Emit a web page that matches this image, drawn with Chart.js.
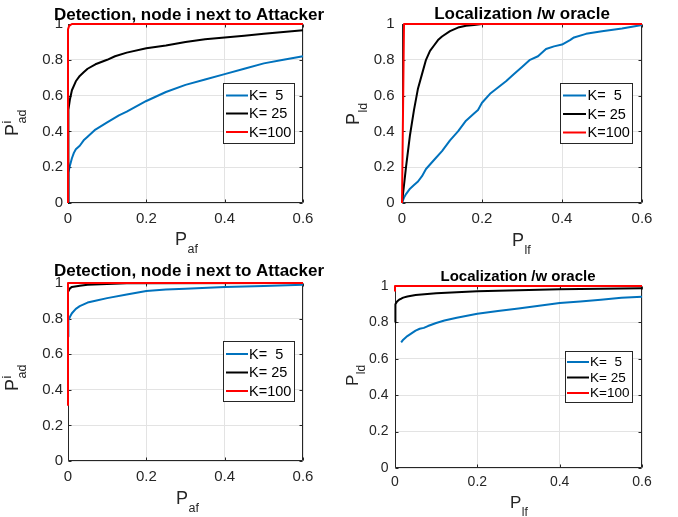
<!DOCTYPE html>
<html>
<head>
<meta charset="utf-8">
<script src="https://cdn.jsdelivr.net/npm/chart.js@4/dist/chart.umd.min.js"></script>
<style>
html,body{margin:0;padding:0;background:#fff;width:678px;height:517px;overflow:hidden}
canvas{position:absolute;left:0;top:0}
</style>
</head>
<body>
<canvas id="c1" width="678" height="517"></canvas>
<canvas id="c2" width="678" height="517"></canvas>
<canvas id="c3" width="678" height="517"></canvas>
<canvas id="c4" width="678" height="517"></canvas>
<script>
// ---------- data ----------
const legendLabels = ['K=  5', 'K= 25', 'K=100'];
const xTickVals = [0, 0.2, 0.4, 0.6];
const yTickVals = [0, 0.2, 0.4, 0.6, 0.8, 1];

// Panel 1: Detection, node i next to Attacker (top)
const det1K5x  = [0, 0, 0.002, 0.005, 0.01, 0.015, 0.02, 0.03, 0.04, 0.05, 0.07, 0.1, 0.13, 0.15, 0.2, 0.25, 0.3, 0.35, 0.4, 0.45, 0.5, 0.55, 0.6];
const det1K5y  = [0, 0.12, 0.17, 0.21, 0.25, 0.28, 0.30, 0.32, 0.35, 0.37, 0.41, 0.45, 0.49, 0.51, 0.57, 0.62, 0.66, 0.69, 0.72, 0.75, 0.78, 0.80, 0.82];
const det1K25x = [0, 0, 0.002, 0.005, 0.01, 0.02, 0.03, 0.04, 0.05, 0.07, 0.1, 0.12, 0.15, 0.2, 0.25, 0.3, 0.35, 0.4, 0.45, 0.5, 0.55, 0.6];
const det1K25y = [0, 0.45, 0.52, 0.58, 0.63, 0.68, 0.71, 0.73, 0.75, 0.775, 0.80, 0.82, 0.84, 0.865, 0.88, 0.90, 0.915, 0.925, 0.935, 0.945, 0.955, 0.965];
const det1K100x = [0, 0, 0.003, 0.01, 0.6];
const det1K100y = [0, 0.97, 0.99, 1, 1];

// Panel 2: Localization /w oracle (top)
const loc1K5x  = [0, 0.005, 0.01, 0.02, 0.03, 0.04, 0.05, 0.06, 0.08, 0.1, 0.12, 0.14, 0.16, 0.18, 0.19, 0.2, 0.22, 0.24, 0.26, 0.28, 0.3, 0.32, 0.34, 0.36, 0.38, 0.4, 0.42, 0.43, 0.46, 0.5, 0.55, 0.6];
const loc1K5y  = [0, 0.03, 0.05, 0.08, 0.10, 0.12, 0.15, 0.19, 0.24, 0.29, 0.35, 0.40, 0.46, 0.50, 0.52, 0.56, 0.61, 0.645, 0.68, 0.72, 0.76, 0.80, 0.82, 0.86, 0.875, 0.885, 0.91, 0.925, 0.945, 0.96, 0.975, 0.995];
const loc1K25x = [0, 0.005, 0.01, 0.02, 0.03, 0.04, 0.05, 0.06, 0.07, 0.08, 0.09, 0.1, 0.12, 0.14, 0.16, 0.18, 0.2, 0.25, 0.6];
const loc1K25y = [0, 0.10, 0.20, 0.38, 0.52, 0.64, 0.72, 0.80, 0.85, 0.88, 0.91, 0.93, 0.96, 0.98, 0.99, 0.995, 1, 1, 1];
const loc1K100x = [0, 0.005, 0.6];
const loc1K100y = [0, 1, 1];

// Panel 3: Detection, node i next to Attacker (bottom)
const det2K5x  = [0, 0, 0.002, 0.005, 0.01, 0.02, 0.03, 0.04, 0.05, 0.07, 0.1, 0.15, 0.2, 0.25, 0.3, 0.4, 0.5, 0.6];
const det2K5y  = [0.70, 0.76, 0.79, 0.81, 0.83, 0.855, 0.87, 0.88, 0.89, 0.90, 0.915, 0.935, 0.955, 0.963, 0.968, 0.977, 0.983, 0.99];
const det2K25x = [0, 0, 0.005, 0.01, 0.03, 0.05, 0.1, 0.15, 0.6];
const det2K25y = [0.90, 0.95, 0.97, 0.978, 0.985, 0.99, 0.995, 0.998, 1];
const det2K100x = [0, 0, 0.6];
const det2K100y = [0.31, 1, 1];

// Panel 4: Localization /w oracle (bottom)
const loc2K5x  = [0.015, 0.02, 0.03, 0.04, 0.05, 0.06, 0.07, 0.08, 0.1, 0.12, 0.15, 0.2, 0.25, 0.3, 0.35, 0.4, 0.45, 0.5, 0.55, 0.6];
const loc2K5y  = [0.69, 0.705, 0.725, 0.74, 0.755, 0.765, 0.77, 0.78, 0.797, 0.81, 0.826, 0.847, 0.862, 0.876, 0.892, 0.906, 0.915, 0.925, 0.935, 0.941];
const loc2K25x = [0, 0, 0.002, 0.005, 0.01, 0.015, 0.02, 0.03, 0.05, 0.1, 0.15, 0.2, 0.3, 0.4, 0.5, 0.6];
const loc2K25y = [0.80, 0.87, 0.90, 0.915, 0.925, 0.93, 0.936, 0.942, 0.95, 0.96, 0.966, 0.971, 0.977, 0.982, 0.985, 0.987];
const loc2K100x = [0, 0, 0.6];
const loc2K100y = [0.97, 1, 1];

// ---------- styling ----------
const FONT = '"Liberation Sans", Arial, Helvetica, sans-serif';
const seriesColors = ['#0072BD', '#000000', '#FF0000'];
const axisColor = '#262626';
const gridColor = '#e3e3e3';

const panels = [
  { id:'c1', L:68, T:24, R:303, B:203, tick:15, xpad:7, ypad:5,
    title:'Detection, node i next to Attacker', titleSize:17, titleX:189, titleY:20,
    xl:{x:175, y:245, main:'P', sub:'af'}, yl:{x:18, y:136, main:'P', sub:'ad', sup:'i'},
    lab:{main:18, sub:12.5, drop:8},
    leg:{x:223, y:83, w:71, h:60, rows:[95.5,113.5,132], lx1:226, lx2:248, tx:249, size:14.5},
    series:[[det1K5x,det1K5y],[det1K25x,det1K25y],[det1K100x,det1K100y]] },
  { id:'c2', L:402, T:24, R:642, B:203, tick:15, xpad:7, ypad:7.5,
    title:'Localization /w oracle', titleSize:17, titleX:522, titleY:19,
    xl:{x:512, y:245.5, main:'P', sub:'lf'}, yl:{x:359, y:125, main:'P', sub:'ld'},
    lab:{main:18, sub:12.5, drop:8},
    leg:{x:560, y:83, w:72, h:60, rows:[95.5,114,132.5], lx1:563, lx2:586, tx:587.5, size:14.5},
    series:[[loc1K5x,loc1K5y],[loc1K25x,loc1K25y],[loc1K100x,loc1K100y]] },
  { id:'c3', L:68, T:283, R:303, B:461, tick:15, xpad:7, ypad:5,
    title:'Detection, node i next to Attacker', titleSize:17, titleX:189, titleY:276,
    xl:{x:176, y:504, main:'P', sub:'af'}, yl:{x:18, y:391, main:'P', sub:'ad', sup:'i'},
    lab:{main:18, sub:12.5, drop:8},
    leg:{x:223, y:341, w:71, h:60, rows:[354,372.5,391], lx1:226, lx2:248, tx:249, size:14.5},
    series:[[det2K5x,det2K5y],[det2K25x,det2K25y],[det2K100x,det2K100y]] },
  { id:'c4', L:395, T:286, R:642, B:468, tick:14, xpad:5.5, ypad:6.5,
    title:'Localization /w oracle', titleSize:15, titleX:518, titleY:280.5,
    xl:{x:510, y:508, main:'P', sub:'lf'}, yl:{x:357.5, y:386, main:'P', sub:'ld'},
    lab:{main:17, sub:12, drop:7.5},
    leg:{x:565, y:351, w:67, h:51, rows:[362,377.5,393], lx1:567, lx2:589, tx:590, size:13.5},
    series:[[loc2K5x,loc2K5y],[loc2K25x,loc2K25y],[loc2K100x,loc2K100y]] }
];

function drawPLabel(ctx, x, y, rot, l, lab) {
  ctx.save();
  ctx.translate(x, y);
  ctx.rotate(rot);
  ctx.fillStyle = axisColor;
  ctx.textAlign = 'left';
  ctx.textBaseline = 'alphabetic';
  ctx.font = lab.main + 'px ' + FONT;
  ctx.fillText(l.main, 0, 0);
  const w = ctx.measureText(l.main).width + 0.5;
  ctx.font = lab.sub + 'px ' + FONT;
  if (l.sub) ctx.fillText(l.sub, w, lab.drop);
  if (l.sup) ctx.fillText(l.sup, w, -lab.drop + 1);
  ctx.restore();
}

function matlabPlugin(p) {
  return {
    id: 'matlab_' + p.id,
    beforeDatasetsDraw(chart) {
      const ctx = chart.ctx, a = chart.chartArea;
      const xs = chart.scales.x, ys = chart.scales.y;
      ctx.save();
      ctx.strokeStyle = axisColor;
      ctx.lineWidth = 1;
      const l = Math.round(a.left) + 0.5, r = Math.round(a.right) - 0.5;
      const t = Math.round(a.top) + 0.5, b = Math.round(a.bottom) - 0.5;
      ctx.beginPath();
      ctx.rect(l, t, r - l, b - t);
      xTickVals.forEach(v => {
        const px = Math.round(xs.getPixelForValue(v)) + 0.5;
        ctx.moveTo(px, b); ctx.lineTo(px, b - 3);
        ctx.moveTo(px, t); ctx.lineTo(px, t + 3);
      });
      yTickVals.forEach(v => {
        const py = Math.round(ys.getPixelForValue(v)) + 0.5;
        ctx.moveTo(l, py); ctx.lineTo(l + 3, py);
        ctx.moveTo(r, py); ctx.lineTo(r - 3, py);
      });
      ctx.stroke();
      ctx.restore();
    },
    afterDraw(chart) {
      const ctx = chart.ctx;
      ctx.save();
      // title
      ctx.fillStyle = '#000';
      ctx.font = 'bold ' + p.titleSize + 'px ' + FONT;
      ctx.textAlign = 'center';
      ctx.textBaseline = 'alphabetic';
      ctx.fillText(p.title, p.titleX, p.titleY);
      // axis labels
      drawPLabel(ctx, p.xl.x, p.xl.y, 0, p.xl, p.lab);
      drawPLabel(ctx, p.yl.x, p.yl.y, -Math.PI / 2, p.yl, p.lab);
      // legend
      const g = p.leg;
      ctx.fillStyle = '#fff';
      ctx.fillRect(g.x, g.y, g.w, g.h);
      ctx.strokeStyle = axisColor;
      ctx.lineWidth = 1;
      ctx.strokeRect(g.x + 0.5, g.y + 0.5, g.w, g.h);
      ctx.font = g.size + 'px ' + FONT;
      ctx.textAlign = 'left';
      ctx.textBaseline = 'middle';
      g.rows.forEach((ry, i) => {
        ctx.strokeStyle = seriesColors[i];
        ctx.lineWidth = 2;
        ctx.beginPath();
        ctx.moveTo(g.lx1, ry); ctx.lineTo(g.lx2, ry);
        ctx.stroke();
        ctx.fillStyle = '#000';
        ctx.fillText(legendLabels[i], g.tx, ry + 0.5);
      });
      ctx.restore();
    }
  };
}

function fmt(v) { return String(Number(v.toFixed(2))); }

panels.forEach(p => {
  const datasets = p.series.map((s, i) => ({
    label: legendLabels[i],
    data: s[0].map((xv, j) => ({ x: xv, y: s[1][j] })),
    borderColor: seriesColors[i],
    backgroundColor: seriesColors[i],
    borderWidth: 2,
    pointRadius: 0,
    showLine: true,
    fill: false,
    tension: 0,
    borderJoinStyle: 'round',
    order: 2 - i,
    clip: 5
  }));
  new Chart(document.getElementById(p.id), {
    type: 'scatter',
    data: { datasets },
    options: {
      responsive: false,
      animation: false,
      events: [],
      layout: { padding: { left: p.L - 50, top: p.T, right: 678 - p.R, bottom: 517 - p.B - 40 } },
      plugins: { legend: { display: false }, tooltip: { enabled: false }, title: { display: false } },
      scales: {
        x: {
          type: 'linear', min: 0, max: 0.6,
          afterFit: s => { s.height = 40; },
          afterBuildTicks: s => { s.ticks = xTickVals.map(v => ({ value: v })); },
          grid: { color: gridColor, drawTicks: false, lineWidth: 1 },
          border: { display: false },
          ticks: { autoSkip: false, maxRotation: 0, padding: p.xpad, color: axisColor,
                   font: { family: FONT, size: p.tick }, callback: v => fmt(v) }
        },
        y: {
          type: 'linear', min: 0, max: 1,
          afterFit: s => { s.width = 50; },
          afterBuildTicks: s => { s.ticks = yTickVals.map(v => ({ value: v })); },
          grid: { color: gridColor, drawTicks: false, lineWidth: 1 },
          border: { display: false },
          ticks: { autoSkip: false, padding: p.ypad, color: axisColor,
                   font: { family: FONT, size: p.tick }, callback: v => fmt(v) }
        }
      }
    },
    plugins: [matlabPlugin(p)]
  });
});
</script>
</body>
</html>
